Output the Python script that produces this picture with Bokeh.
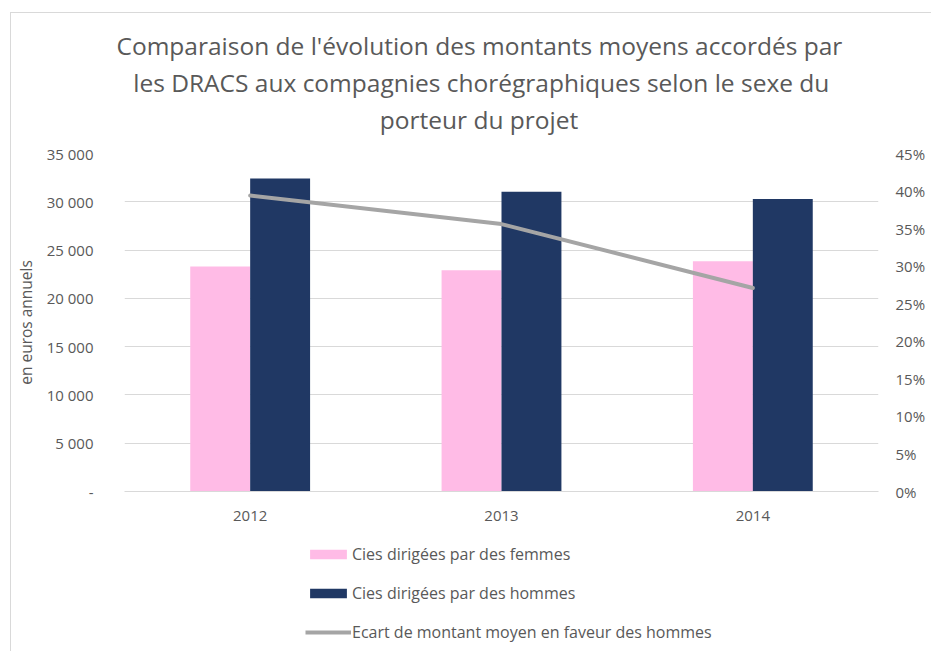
from bokeh.plotting import figure
from bokeh.layouts import column
from bokeh.models import (Range1d, LinearAxis, FixedTicker, Legend, LegendItem,
                          Title, NumeralTickFormatter)
from bokeh.embed import file_html
from bokeh.resources import INLINE

# ---- data ----
years = ["2012", "2013", "2014"]
femmes = [23300, 22900, 23850]
hommes = [32400, 31050, 30300]
ecart = [0.394, 0.356, 0.271]
left_ticks = [0, 5000, 10000, 15000, 20000, 25000, 30000, 35000]
left_tick_labels = ["-", "5 000", "10 000", "15 000", "20 000", "25 000", "30 000", "35 000"]
right_ticks = [0, 0.05, 0.10, 0.15, 0.20, 0.25, 0.30, 0.35, 0.40, 0.45]
title_lines = ["Comparaison de l'évolution des montants moyens accordés par",
               "les DRACS aux compagnies chorégraphiques selon le sexe du",
               "porteur du projet"]
series_names = ["Cies dirigées par des femmes",
                "Cies dirigées par des hommes",
                "Ecart de montant moyen en faveur des hommes"]
y_label = "en euros annuels"

# ---- styles / layout ----
PINK = "#FFBBE6"
NAVY = "#203864"
GREY = "#A5A5A5"
TXT = "#595959"
GRID = "#D9D9D9"
FONT = "Open Sans"

OX, OY = 11, 13           # page position of the column content
W = 920
ML, MT, FW, FH, MB = 112, 140, 755, 338, 40
MR = W - ML - FW
HM = MT + FH + MB         # main figure height
HL = 120                  # legend strip height
FRAME_LEFT = OX + ML      # page x of the plot frame
YMAX = 35000
NCAT = len(years)

# ---- main chart ----
p = figure(width=W, height=HM, output_backend="svg", toolbar_location=None,
           x_range=Range1d(0, NCAT), y_range=Range1d(0, YMAX),
           min_border_left=ML, min_border_right=MR,
           min_border_top=MT, min_border_bottom=MB)
p.extra_y_ranges = {"pct": Range1d(0, 0.45)}
p.outline_line_color = None
p.background_fill_color = "white"
p.border_fill_color = "white"

bw = 60 / FW * NCAT
centers = [i + 0.5 for i in range(NCAT)]
xf = [c - bw / 2 for c in centers]
xh = [c + bw / 2 for c in centers]

p.vbar(x=xf, top=femmes, bottom=0, width=bw, fill_color=PINK, line_color=None)
p.vbar(x=xh, top=hommes, bottom=0, width=bw, fill_color=NAVY, line_color=None)
p.line(x=centers, y=ecart, y_range_name="pct", line_color=GREY,
       line_width=4, line_cap="round", line_join="round")

p.xgrid.visible = False
p.ygrid.ticker = FixedTicker(ticks=left_ticks)
p.ygrid.grid_line_color = GRID
p.ygrid.grid_line_width = 1

ya = p.yaxis[0]
ya.ticker = FixedTicker(ticks=left_ticks)
ya.major_label_overrides = dict(zip(left_ticks, left_tick_labels))
ya.axis_line_color = None
ya.major_tick_line_color = None
ya.minor_tick_line_color = None
ya.major_tick_out = 0
ya.major_label_standoff = 31
ya.major_label_text_font = FONT
ya.major_label_text_font_size = "15px"
ya.major_label_text_color = TXT
ya.axis_label = y_label
ya.axis_label_standoff = 7
ya.axis_label_text_font = FONT
ya.axis_label_text_font_size = "15.5px"
ya.axis_label_text_font_style = "normal"
ya.axis_label_text_color = TXT

ra = LinearAxis(y_range_name="pct", ticker=FixedTicker(ticks=right_ticks),
                formatter=NumeralTickFormatter(format="0%"))
ra.axis_line_color = None
ra.major_tick_line_color = None
ra.minor_tick_line_color = None
ra.major_tick_out = 0
ra.major_label_standoff = 17
ra.major_label_text_font = FONT
ra.major_label_text_font_size = "15px"
ra.major_label_text_color = TXT
p.add_layout(ra, "right")

xa = p.xaxis[0]
xa.ticker = FixedTicker(ticks=centers)
xa.major_label_overrides = dict(zip(centers, years))
xa.axis_line_color = GRID
xa.major_tick_line_color = None
xa.minor_tick_line_color = None
xa.major_tick_out = 0
xa.major_label_standoff = 19
xa.major_label_text_font = FONT
xa.major_label_text_font_size = "15px"
xa.major_label_text_color = TXT

# ---- title: a small spacer next to the frame, then the three lines ----
p.add_layout(Title(text=" ", text_font_size="1px", standoff=14), "above")
title_left = [115, 131.7, 378.3]      # page x where each line starts
for line, lx in reversed(list(zip(title_lines, title_left))):
    p.add_layout(Title(text=line, align="left", offset=lx - FRAME_LEFT, standoff=2,
                       text_font=FONT, text_font_size="24.5px",
                       text_font_style="normal", text_color=TXT), "above")

# ---- legend strip (frame aligned with the main frame by the column) ----
pl = figure(width=W, height=HL, output_backend="svg", toolbar_location=None,
            x_range=Range1d(0, 1), y_range=Range1d(0, 1),
            x_axis_location=None, y_axis_location=None,
            min_border_left=ML, min_border_right=MR,
            min_border_top=0, min_border_bottom=0)
pl.grid.visible = False
pl.outline_line_color = None
pl.background_fill_color = "white"
pl.border_fill_color = "white"
nan = float("nan")
lf = pl.vbar(x=[nan], top=[nan], width=0.1, fill_color=PINK, line_color=None)
lh = pl.vbar(x=[nan], top=[nan], width=0.1, fill_color=NAVY, line_color=None)
ll = pl.line(x=[nan, nan], y=[nan, nan], line_color=GREY, line_width=4)
strip_top = OY + HM
legend = Legend(items=[LegendItem(label=series_names[0], renderers=[lf]),
                       LegendItem(label=series_names[1], renderers=[lh]),
                       LegendItem(label=series_names[2], renderers=[ll])],
                location=(304 - FRAME_LEFT, (strip_top + HL) - 643),
                orientation="vertical",
                padding=0, margin=0, spacing=17, glyph_width=46, glyph_height=12,
                label_height=20, label_standoff=1,
                label_text_font=FONT, label_text_font_size="16px",
                label_text_color=TXT, border_line_color=None,
                background_fill_alpha=0)
pl.add_layout(legend, "center")

layout = column(p, pl, spacing=0,
                styles={"margin-left": "10px", "margin-top": "12px",
                        "border-left": "1px solid #D9D9D9",
                        "border-top": "1px solid #D9D9D9"})

open("out.html", "w").write(file_html(layout, INLINE))
